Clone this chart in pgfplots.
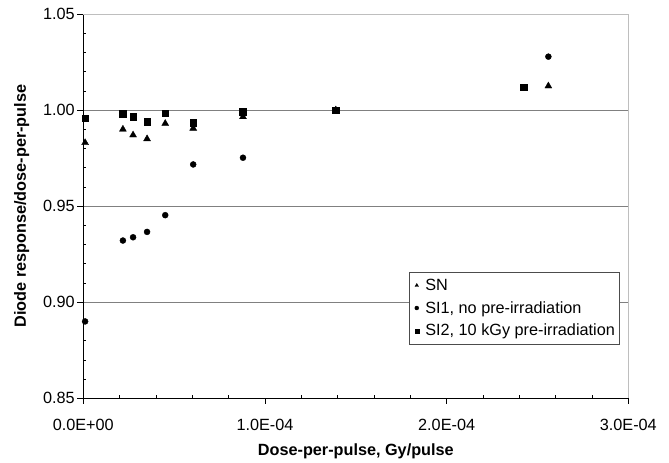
\documentclass[border=0pt]{standalone}
\usepackage{pgfplots}
\pgfplotsset{compat=1.18}
\usepackage{fontspec}
\setmainfont{Liberation Sans}
\definecolor{gridgray}{RGB}{128,128,128}
\definecolor{boxgray}{RGB}{190,190,190}
\begin{document}
\begin{tikzpicture}
\begin{axis}[
  scale only axis,
  width=545bp, height=384.3bp,
  xmin=0, xmax=3e-4, ymin=0.85, ymax=1.05,
  axis x line*=bottom, axis y line*=left,
  axis line style={-, black},
  xtick={0,1e-4,2e-4,3e-4},
  xticklabels={0.0E+00,1.0E-04,2.0E-04,3.0E-04},
  scaled x ticks=false,
  ytick={0.85,0.90,0.95,1.00,1.05},
  yticklabel style={/pgf/number format/fixed, /pgf/number format/fixed zerofill, /pgf/number format/precision=2, xshift=-5bp},
  /pgf/number format/assume math mode=true,
  minor x tick num=4, minor y tick num=4,
  tick align=inside,
  major tick length=-6bp, minor tick length=3bp,
  tick style={black, line width=0.6pt},
  ymajorgrids,
  major grid style={gridgray, line width=0.8pt},
  ticklabel style={font=\fontsize{16.3}{19}\selectfont},
  xticklabel style={yshift=-17bp},
  xlabel={Dose-per-pulse, Gy/pulse},
  ylabel={Diode response/dose-per-pulse},
  label style={font=\fontsize{16.3}{19}\selectfont\bfseries},
  xlabel style={yshift=-7bp},
  ylabel style={yshift=7bp},
  clip=false,
  legend style={at={(0.983,0.329)}, anchor=north east, draw=black!70,
    font=\fontsize{16.3}{19}\selectfont, row sep=5.5bp, inner xsep=2bp, inner ysep=5bp,
    cells={anchor=west}},
  legend image code/.code={\draw[#1, mark size=2bp] plot coordinates {(0.2cm,0)};\path[draw=none,fill=none] (0,0) -- (0.43cm,0);},
]
\draw[boxgray, line width=0.8pt] (rel axis cs:0,1) -- (rel axis cs:1,1) -- (rel axis cs:1,0);
\addplot[only marks, mark=triangle*, mark size=4bp, black] coordinates {
  (1e-6,0.983) (2.18e-5,0.990) (2.74e-5,0.987) (3.51e-5,0.985) (4.51e-5,0.993)
  (6.05e-5,0.9905) (8.79e-5,0.9965) (1.39e-4,1.000) (2.56e-4,1.0125)};
\addlegendentry{SN}
\addplot[only marks, mark=*, mark size=3bp, black] coordinates {
  (1e-6,0.890) (2.18e-5,0.9321) (2.74e-5,0.9338) (3.51e-5,0.9366) (4.51e-5,0.9453)
  (6.05e-5,0.9717) (8.79e-5,0.9752) (1.39e-4,1.000) (2.56e-4,1.0278)};
\addlegendentry{SI1, no pre-irradiation}
\addplot[only marks, mark=square*, mark size=3.3bp, black] coordinates {
  (1e-6,0.9957) (2.18e-5,0.998) (2.74e-5,0.9965) (3.51e-5,0.994) (4.51e-5,0.9984)
  (6.05e-5,0.9934) (8.79e-5,0.999) (1.39e-4,1.000) (2.425e-4,1.0118)};
\addlegendentry{SI2, 10 kGy pre-irradiation}
\end{axis}
\path (-83.3bp,-63.7bp) rectangle (585.7bp,398.3bp);
\end{tikzpicture}
\end{document}
